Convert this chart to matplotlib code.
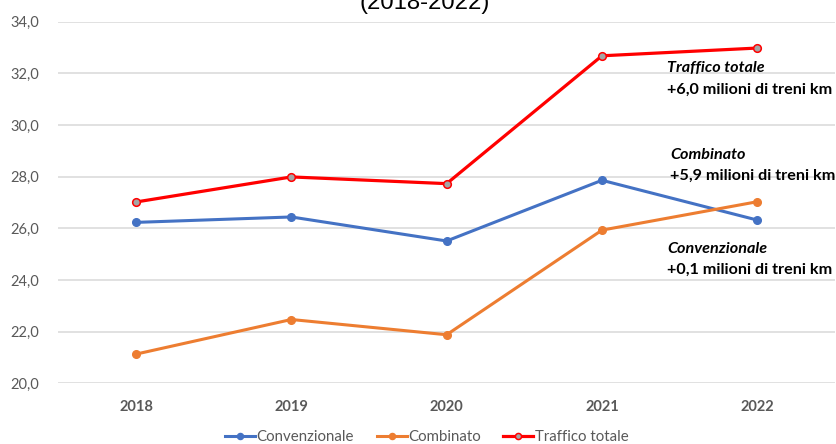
import matplotlib
matplotlib.use("Agg")
import matplotlib.pyplot as plt
from matplotlib.ticker import FuncFormatter

# Treni-km per tipologia di traffico (milioni)
anni = ["2018", "2019", "2020", "2021", "2022"]
convenzionale = [26.23, 26.44, 25.51, 27.86, 26.32]
combinato = [21.13, 22.47, 21.88, 25.93, 27.03]
traffico_totale = [27.02, 27.99, 27.73, 32.68, 32.98]

serie = ["Convenzionale", "Combinato", "Traffico totale"]
y_ticks = [20, 22, 24, 26, 28, 30, 32, 34]

note = [
    ("Traffico totale", "+6,0 milioni di treni km", 667, 68, 90),
    ("Combinato", "+5,9 milioni di treni km", 670, 155, 176),
    ("Convenzionale", "+0,1 milioni di treni km", 667, 249, 270),
]

W, H = 837, 444
fig = plt.figure(figsize=(W / 100, H / 100), dpi=100)
ax = fig.add_axes([58.4 / W, 1 - 383.3 / H, 776.5 / W, (383.3 - 21.7) / H])

grey_txt = "#595959"
x = range(len(anni))
ax.plot(x, convenzionale, color="#4472C4", lw=2.2, marker="o", ms=5.5,
        mfc="#4472C4", mec="#4472C4", label=serie[0], zorder=3)
ax.plot(x, combinato, color="#ED7D31", lw=2.2, marker="o", ms=5.5,
        mfc="#ED7D31", mec="#ED7D31", label=serie[1], zorder=3)
ax.plot(x, traffico_totale, color="#FF0000", lw=2.3, marker="o", ms=5.5,
        mfc="#A5A5A5", mec="#FF0000", mew=1.1, label=serie[2], zorder=4)

ax.set_xlim(-0.5, len(anni) - 0.5)
ax.set_ylim(20, 34)
ax.set_yticks(y_ticks)
ax.yaxis.set_major_formatter(FuncFormatter(lambda v, p: f"{v:.1f}".replace(".", ",")))
ax.set_xticks(list(x))
ax.set_xticklabels(anni, fontweight="bold", fontsize=10.5, color=grey_txt, family="Lato")
for lab in ax.get_yticklabels():
    lab.set_family("Lato")
ax.tick_params(axis="y", length=0, pad=14, labelsize=10.5, labelcolor=grey_txt)
ax.tick_params(axis="x", length=0, pad=12)
ax.grid(axis="y", color="#D9D9D9", lw=1.1)
ax.set_axisbelow(True)
for s in ax.spines.values():
    s.set_visible(False)

# Titolo (parzialmente fuori dal bordo superiore)
fig.text(425 / W, 1 - 9.5 / H, "(2018-2022)", ha="center", va="baseline",
         fontsize=17.2, family="Liberation Sans", color="black")

# Note sulle variazioni 2018-2022
for titolo, variazione, xp, y1, y2 in note:
    fig.text(xp / W, 1 - y1 / H, titolo, ha="left", va="center", fontsize=11.6,
             fontweight="bold", fontstyle="italic", family="Lato", color="black")
    fig.text(xp / W, 1 - y2 / H, variazione, ha="left", va="center", fontsize=11.6,
             fontweight="bold", family="Lato", color="black")

fig.legend(loc="center", bbox_to_anchor=(427 / W, 1 - 437 / H), ncol=3, frameon=False,
           prop={"family": "Lato", "size": 10.8}, labelcolor=grey_txt,
           handlelength=2.0, handletextpad=0.1, columnspacing=1.5, markerscale=0.8)

fig.savefig("out.png", dpi=100)
